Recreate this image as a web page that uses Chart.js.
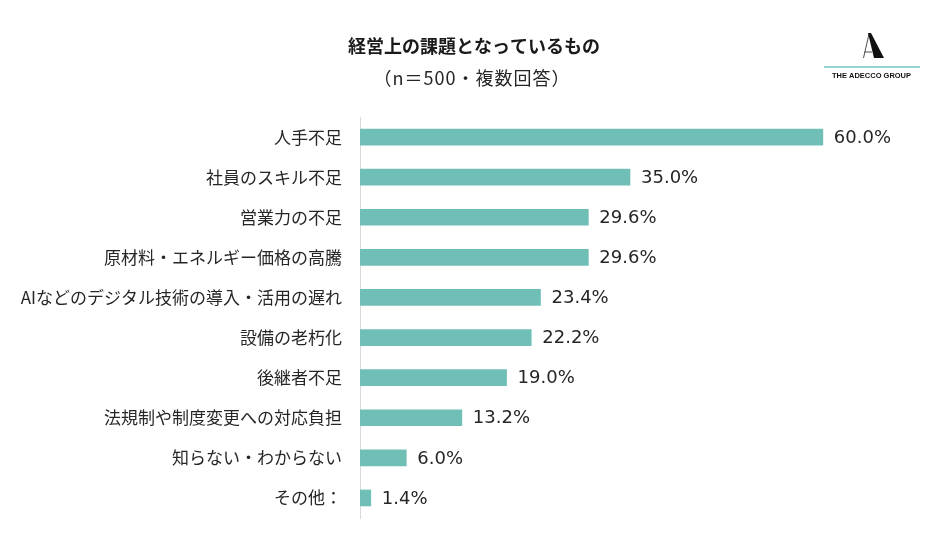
<!DOCTYPE html>
<html>
<head>
<meta charset="utf-8">
<script src="https://cdn.jsdelivr.net/npm/chart.js@4"></script>
<style>
html,body{margin:0;padding:0;background:#fff;}
#wrap{position:relative;width:948px;height:552px;}
</style>
</head>
<body>
<div id="wrap"><canvas id="c" width="948" height="552"></canvas></div>
<script>
const categories = [
  "人手不足",
  "社員のスキル不足",
  "営業力の不足",
  "原材料・エネルギー価格の高騰",
  "AIなどのデジタル技術の導入・活用の遅れ",
  "設備の老朽化",
  "後継者不足",
  "法規制や制度変更への対応負担",
  "知らない・わからない",
  "その他："
];
const values = [60.0, 35.0, 29.6, 29.6, 23.4, 22.2, 19.0, 13.2, 6.0, 1.4];
const titleText = "経営上の課題となっているもの";
const subtitleText = "（n＝500・複数回答）";
const logoText = "THE ADECCO GROUP";

const JP = "'Noto Sans CJK JP', 'Noto Sans', sans-serif";
const NUM = "'DejaVu Sans', 'Noto Sans CJK JP', sans-serif";

const decor = {
  id: 'decor',
  afterDraw(chart) {
    const ctx = chart.ctx;
    ctx.save();
    // titles
    ctx.fillStyle = '#1a1a1a';
    ctx.textAlign = 'center';
    ctx.textBaseline = 'middle';
    ctx.font = "bold 18px " + JP;
    ctx.fillText(titleText, 474, 46);
    ctx.font = "18px " + JP;
    ctx.fillStyle = '#262626';
    if ('letterSpacing' in ctx) ctx.letterSpacing = '1px';
    ctx.fillText(subtitleText, 472, 78);
    if ('letterSpacing' in ctx) ctx.letterSpacing = '0px';

    // value labels
    const meta = chart.getDatasetMeta(0);
    ctx.textAlign = 'left';
    ctx.font = "18px " + NUM;
    ctx.fillStyle = '#262626';
    meta.data.forEach((bar, i) => {
      ctx.fillText(values[i].toFixed(1) + '%', bar.x + 11, bar.y + 1);
    });

    // logo
    ctx.fillStyle = '#111';
    ctx.beginPath();
    ctx.moveTo(868, 33);
    ctx.lineTo(871, 33);
    ctx.lineTo(884, 58);
    ctx.lineTo(874, 58);
    ctx.closePath();
    ctx.fill();
    ctx.strokeStyle = '#222';
    ctx.lineWidth = 0.8;
    ctx.beginPath();
    ctx.moveTo(869, 34);
    ctx.lineTo(863.5, 58);
    ctx.moveTo(864.5, 52);
    ctx.lineTo(872, 52);
    ctx.stroke();
    ctx.strokeStyle = '#6fc9c3';
    ctx.lineWidth = 1.5;
    ctx.beginPath();
    ctx.moveTo(824, 67);
    ctx.lineTo(920, 67);
    ctx.stroke();
    ctx.fillStyle = '#111';
    ctx.textAlign = 'center';
    ctx.font = "bold 7.5px 'Liberation Sans', Arial, sans-serif";
    ctx.fillText(logoText, 871.5, 76, 79);
    ctx.restore();
  }
};

new Chart(document.getElementById('c'), {
  type: 'bar',
  data: {
    labels: categories,
    datasets: [{
      data: values,
      backgroundColor: '#70bfb7',
      borderWidth: 0,
      barThickness: 16
    }]
  },
  options: {
    indexAxis: 'y',
    responsive: false,
    animation: false,
    devicePixelRatio: 1,
    layout: { padding: { left: 0, right: 48, top: 117, bottom: 34 } },
    plugins: { legend: { display: false }, tooltip: { enabled: false }, title: { display: false } },
    scales: {
      x: { display: false, min: 0, max: 70 },
      y: {
        afterFit(scale) { scale.width = 360; },
        grid: { display: false, drawTicks: false },
        border: { display: true, color: '#d9d9d9', width: 1 },
        ticks: {
          padding: 18,
          color: '#262626',
          font: { family: JP, size: 17 }
        }
      }
    }
  },
  plugins: [decor]
});
</script>
</body>
</html>
